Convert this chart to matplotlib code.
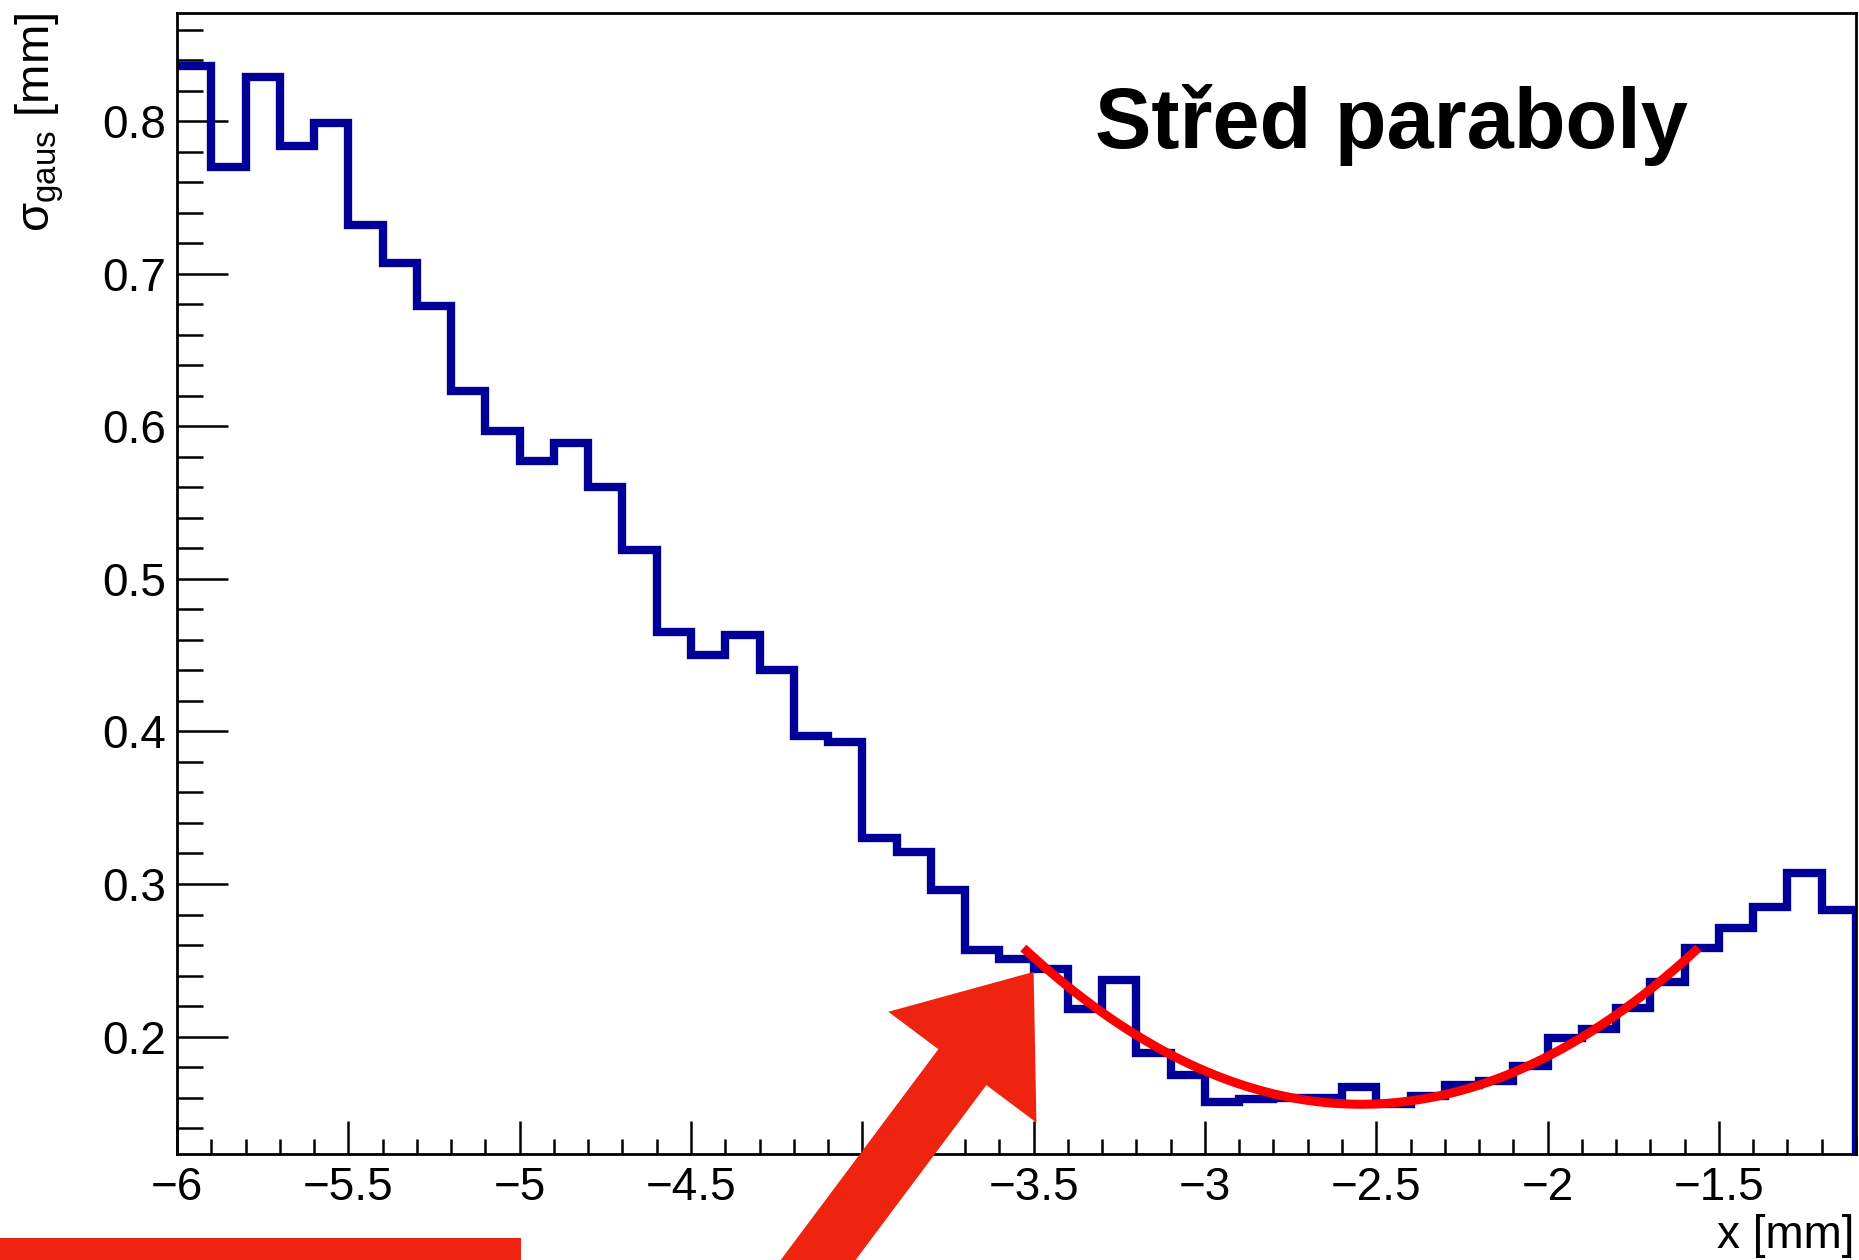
import numpy as np
import matplotlib
matplotlib.use("Agg")
import matplotlib.pyplot as plt
from matplotlib.ticker import FixedLocator, FuncFormatter
from matplotlib.patches import FancyArrow, Rectangle
from matplotlib.transforms import IdentityTransform

plt.rcParams['font.family'] = ['Liberation Sans', 'DejaVu Sans']
plt.rcParams['mathtext.fontset'] = 'custom'
plt.rcParams['mathtext.rm'] = 'Liberation Sans'
plt.rcParams['mathtext.it'] = 'Liberation Sans:italic'
plt.rcParams['mathtext.bf'] = 'Liberation Sans:bold'

# ---- data ----
x_lo, x_hi, n_bins = -6.0, -1.1, 49
sigma_gaus = [0.836, 0.770, 0.829, 0.784, 0.799, 0.732, 0.707, 0.679, 0.623, 0.597,
              0.577, 0.589, 0.560, 0.519, 0.465, 0.450, 0.463, 0.440, 0.397, 0.393,
              0.330, 0.321, 0.296, 0.257, 0.251, 0.244, 0.218, 0.237, 0.189, 0.175,
              0.157, 0.159, 0.160, 0.160, 0.167, 0.156, 0.161, 0.168, 0.171, 0.181,
              0.199, 0.205, 0.219, 0.236, 0.258, 0.271, 0.285, 0.307, 0.283]
# parabola fit: y = a*(x - x0)^2 + c on [fit_lo, fit_hi]
fit_a, fit_x0, fit_c = 0.1056, -2.545, 0.1556
fit_lo, fit_hi = -3.53, -1.56
x_major = [-6, -5.5, -5, -4.5, -4, -3.5, -3, -2.5, -2, -1.5]
y_major = [0.2, 0.3, 0.4, 0.5, 0.6, 0.7, 0.8]
arrow_tip = (-3.5, 0.2424)
title_text = "Střed paraboly"
xlabel_text = "x [mm]"
ylabel_text = r"$\mathrm{σ}_{\mathrm{gaus}}$ [mm]"

W, H = 1859, 1260
fig = plt.figure(figsize=(W / 100, H / 100), dpi=100)
ax = fig.add_axes([177 / W, 1 - 1154 / H, (1856 - 177) / W, (1154 - 13) / H])

edges = np.linspace(x_lo, x_hi, n_bins + 1)
hist_color = '#000099'
ax.stairs(sigma_gaus, edges, baseline=None, color=hist_color, linewidth=6.0, zorder=3)
# closing drop of the histogram outline at the last bin edge
ax.vlines(edges[-1], 0, sigma_gaus[-1], color=hist_color, linewidth=6.0, zorder=3)

xf = np.linspace(fit_lo, fit_hi, 300)
ax.plot(xf, fit_a * (xf - fit_x0) ** 2 + fit_c, color='#ff0000', linewidth=6.5,
        solid_capstyle='butt', zorder=4)

ax.set_xlim(x_lo, x_hi)
ax.set_ylim(0.123, 0.871)

ax.xaxis.set_major_locator(FixedLocator(x_major))
ax.xaxis.set_minor_locator(FixedLocator(np.arange(-6.0, -1.05, 0.1)))
ax.yaxis.set_major_locator(FixedLocator(y_major))
ax.yaxis.set_minor_locator(FixedLocator(np.arange(0.14, 0.87, 0.02)))
fmt = FuncFormatter(lambda v, p: f"{v:g}".replace('-', '\u2212'))
ax.xaxis.set_major_formatter(fmt)
ax.yaxis.set_major_formatter(fmt)

ax.tick_params(axis='both', which='both', direction='in', top=False, right=False,
               width=1.8, color='black')
ax.tick_params(axis='y', which='major', length=36.5, pad=8, labelsize=33)
ax.tick_params(axis='y', which='minor', length=18.5)
ax.tick_params(axis='x', which='major', length=24, pad=9, labelsize=33)
ax.tick_params(axis='x', which='minor', length=11)
for s in ax.spines.values():
    s.set_linewidth(2.0)
    s.set_zorder(5)

fig.text(1095 / W, 1 - 148 / H, title_text, fontsize=61, fontweight='bold',
         ha='left', va='baseline')
fig.text(1854 / W, 2 / H, xlabel_text, fontsize=33, ha='right', va='bottom')
fig.text(40 / W, 1 - 13 / H, ylabel_text, fontsize=34, rotation=90,
         ha='center', va='top')

# ---- red annotation overlays (pixel coordinates) ----
tip = ax.transData.transform(arrow_tip)
direction = np.array([0.599, 0.801])
L = (tip[1] + 40) / direction[1]
tail = tip - L * direction
arrow = FancyArrow(tail[0], tail[1], tip[0] - tail[0], tip[1] - tail[1],
                   width=60, head_width=185, head_length=119,
                   length_includes_head=True, color='#ee2310', linewidth=0,
                   transform=IdentityTransform(), zorder=20)
fig.add_artist(arrow)
rect = Rectangle((-5, -5), 526, 27, color='#ee2310', linewidth=0,
                 transform=IdentityTransform(), zorder=20)
fig.add_artist(rect)

fig.savefig("out.png", dpi=100)
